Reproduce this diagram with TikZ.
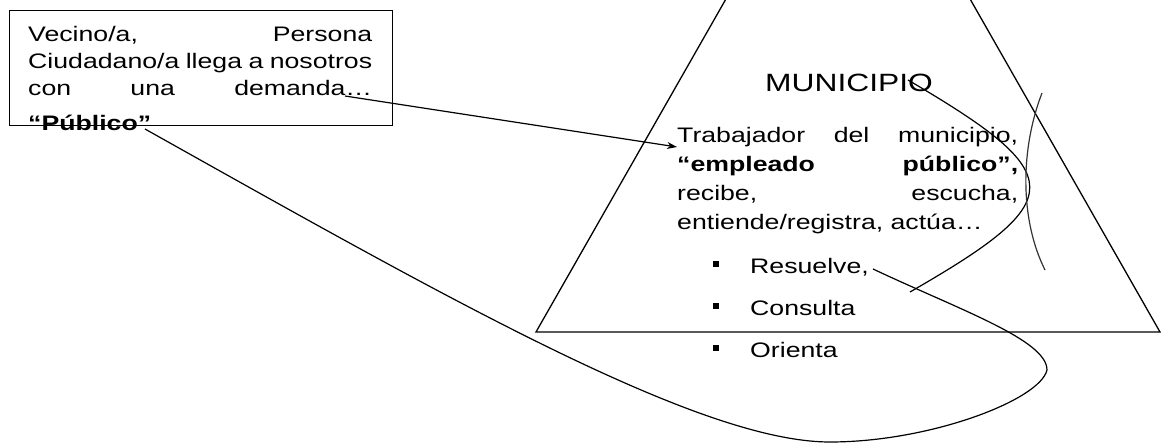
\documentclass[tikz,border=0pt]{standalone}
\usepackage{fontspec}
\setmainfont{Liberation Sans}[FakeStretch=1.27]
\usetikzlibrary{arrows.meta,calc}
\begin{document}
\begin{tikzpicture}[x=1pt,y=-1pt,
  txt/.style={anchor=base west, inner sep=0pt, font=\fontsize{21}{25}\selectfont},
  big/.style={anchor=base west, inner sep=0pt, font=\fontsize{25}{30}\selectfont},
  bul/.style={fill=black, minimum size=6pt, inner sep=0pt},
  edge/.style={line width=1.3pt},
  curve/.style={line width=1.2pt}]
\clip (0,0) rectangle (1163,443);
% left box
\node[draw, edge, anchor=north west, minimum width=383pt, minimum height=115pt, inner sep=0pt] (box) at (9,10) {};
\node[txt] (v1) at (28,42) {\hbox to 344pt{Vecino/a,\hfill Persona}};
\node[txt] (v2) at (28,69) {\hbox to 344pt{Ciudadano/a llega a nosotros}};
\node[txt] (v3) at (28,96) {\hbox to 344pt{con\hfill una\hfill demanda…}};
\node[txt] (pub) at (28,131) {\textbf{“Público”}};
% triangle
\coordinate (apex) at (848,-215);
\coordinate (bl) at (536,332);
\coordinate (br) at (1160,332);
\draw[edge] (apex) -- (bl) -- (br) -- cycle;
% texts in triangle
\node[big] (mun) at (765,92) {MUNICIPIO};
\node[txt] (b1) at (677,143) {\hbox to 341pt{Trabajador\hfill del\hfill municipio,}};
\node[txt] (b2) at (677,172) {\hbox to 341pt{\bfseries “empleado\hfill público”,}};
\node[txt] (b3) at (677,201) {\hbox to 341pt{recibe,\hfill escucha,}};
\node[txt] (b4) at (677,230) {entiende/registra, actúa…};
\node[bul] (s1) at (716,264) {};
\node[txt] (res) at (750,274) {Resuelve,};
\node[bul] (s2) at (716,306) {};
\node[txt] (con) at (750,316) {Consulta};
\node[bul] (s3) at (716,348) {};
\node[txt] (ori) at (750,358) {Orienta};
% connectors
\coordinate (aS) at (345,96);
\coordinate (aE) at ($(b1.base west)+(0,4)$);
\draw[curve, -{Stealth[length=10pt,width=7pt]}] (aS) -- (aE);
\coordinate (c0) at (145,129);
\coordinate (cb) at (830,442);
\coordinate (cr) at (1047,370);
\coordinate (cE) at ($(res.base east)+(4,-5)$);
\draw[curve] (c0) .. controls (450,300) and (700,442) .. (cb)
  .. controls (930,442) and (1040,400) .. (cr)
  .. controls (1047,340) and (960,310) .. (cE);
\coordinate (m0) at (908,80);
\coordinate (m1) at (910,292);
\draw[curve] (m0) .. controls (1070,175) and (1070,200) .. (m1);
\coordinate (r0) at (1042,93);
\coordinate (r1) at (1045,270);
\draw[curve, black!80] (r0) .. controls (1020,150) and (1020,220) .. (r1);
\end{tikzpicture}
\end{document}
